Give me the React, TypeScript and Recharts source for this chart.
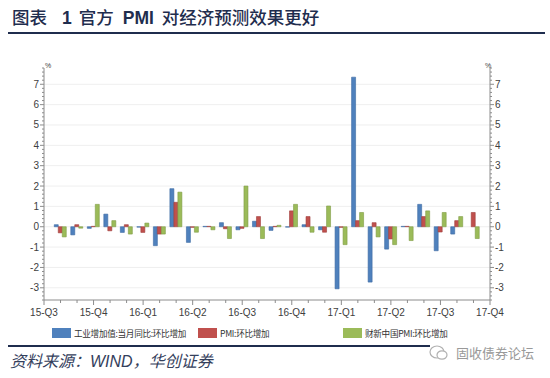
import React from "react";
import { BarChart, Bar, XAxis, YAxis, CartesianGrid } from "recharts";

// monthly data, Aug 2015 .. Sep 2017 (x position = month index from 15-Q3 start)
const months = [
  "2015-08", "2015-09", "2015-10", "2015-11", "2015-12",
  "2016-01", "2016-02", "2016-03", "2016-04", "2016-05", "2016-06",
  "2016-07", "2016-08", "2016-09", "2016-10", "2016-11", "2016-12",
  "2017-01", "2017-02", "2017-03", "2017-04", "2017-05", "2017-06",
  "2017-07", "2017-08", "2017-09",
];
const industry = [
  0.1, -0.4, -0.08, 0.62, -0.28,
  -0.02, -0.93, 1.87, -0.77, 0.02, 0.2,
  -0.15, 0.27, -0.18, -0.02, 0.1, -0.15,
  -3.05, 7.35, -2.72, -1.1, 0.02, 1.1,
  -1.18, -0.36, 0,
];
const pmi = [
  -0.3, 0.1, 0.02, -0.2, 0.1,
  -0.28, -0.36, 1.2, -0.03, 0.02, -0.1,
  -0.08, 0.5, 0.02, 0.78, 0.5, -0.27,
  -0.03, 0.3, 0.2, -0.6, 0.02, 0.5,
  -0.26, 0.3, 0.7,
];
const caixin = [
  -0.5, -0.07, 1.1, 0.3, -0.36,
  0.18, -0.36, 1.7, -0.27, -0.15, -0.58,
  2.0, -0.58, 0.07, 1.1, -0.27, 1.02,
  -0.88, 0.7, -0.5, -0.88, -0.68, 0.78,
  0.7, 0.5, -0.58,
];
const quarterLabels = ["15-Q3", "15-Q4", "16-Q1", "16-Q2", "16-Q3", "16-Q4", "17-Q1", "17-Q2", "17-Q3", "17-Q4"];
const yLabels = [-3, -2, -1, 0, 1, 2, 3, 4, 5, 6, 7];

const data = months.map((m, i) => ({ m, k: i + 1, industry: industry[i], pmi: pmi[i], caixin: caixin[i] }));
const xTicks = Array.from({ length: quarterLabels.length * 3 - 2 }, (_, i) => i);
const yTicks = Array.from({ length: 58 }, (_, i) => Math.round((-3.6 + i * 0.2) * 10) / 10);

const AXIS = "#8c8c8c";
const LABEL = "#404040";
const NAVY = "#1f2d4e";
const BLUE = "#4f81bd", RED = "#c0504d", GREEN = "#9bbb59";
const LATIN = "'Liberation Sans', 'Noto Sans CJK SC', sans-serif";
const CJK = "'Noto Sans CJK SC', sans-serif";

function LeftTick({ x, y, payload }: any) {
  const v = payload.value;
  const major = Number.isInteger(v);
  return (
    <g>
      <line x1={x - (major ? 4 : 2)} x2={x} y1={y} y2={y} stroke={AXIS} />
      {major && <text x={x - 5} y={y} dy={3.5} textAnchor="end" fontSize={10} fill={LABEL} fontFamily={LATIN}>{v}</text>}
    </g>
  );
}

function RightTick({ x, y, payload }: any) {
  const v = payload.value;
  const major = Number.isInteger(v);
  return (
    <g>
      <line x1={x} x2={x + (major ? 4 : 2)} y1={y} y2={y} stroke={AXIS} />
      {major && <text x={x + 5} y={y} dy={3.5} textAnchor="start" fontSize={10} fill={LABEL} fontFamily={LATIN}>{v}</text>}
    </g>
  );
}

function XTick({ x, y, payload }: any) {
  const v = payload.value;
  const major = v % 3 === 0;
  return (
    <g>
      <line x1={x} x2={x} y1={y} y2={y + (major ? 5 : 3)} stroke={AXIS} />
      {major && <text x={x} y={y + 16} textAnchor="middle" fontSize={10} fill={LABEL} fontFamily={LATIN}>{quarterLabels[v / 3]}</text>}
    </g>
  );
}

const legendItems = [
  { label: "工业增加值:当月同比:环比增加", color: BLUE, left: 52 },
  { label: "PMI:环比增加", color: RED, left: 198 },
  { label: "财新中国PMI:环比增加", color: GREEN, left: 343 },
];

export default function App() {
  return (
    <div style={{ position: "absolute", left: 0, top: 0, width: 550, height: 378, background: "#fff", overflow: "hidden" }}>
      <div style={{ position: "absolute", left: 0, top: 0 }}>
        <BarChart width={550} height={330} data={data} margin={{ top: 68, right: 30, left: 14, bottom: 10 }} barGap={0}>
          <CartesianGrid vertical={false} horizontalValues={yLabels} stroke="#efefef" yAxisId="left" />
          <XAxis dataKey="k" type="number" domain={[0, 27]} ticks={xTicks} interval={0} height={20}
                 stroke={AXIS} tickSize={0} tickMargin={0} tick={<XTick />} />
          <YAxis yAxisId="left" type="number" domain={[-3.6, 7.8]} ticks={yTicks} interval={0} width={30}
                 stroke={AXIS} tickSize={0} tickMargin={0} tick={<LeftTick />} allowDataOverflow />
          <YAxis yAxisId="right" orientation="right" type="number" domain={[-3.6, 7.8]} ticks={yTicks} interval={0} width={30}
                 stroke={AXIS} tickSize={0} tickMargin={0} tick={<RightTick />} allowDataOverflow />
          <Bar yAxisId="left" dataKey="industry" fill={BLUE} stroke="#3d6aa3" strokeWidth={0.6} barSize={4} isAnimationActive={false} />
          <Bar yAxisId="left" dataKey="pmi" fill={RED} stroke="#9e3c3a" strokeWidth={0.6} barSize={4} isAnimationActive={false} />
          <Bar yAxisId="left" dataKey="caixin" fill={GREEN} stroke="#7f9c45" strokeWidth={0.6} barSize={4} isAnimationActive={false} />
        </BarChart>
      </div>

      <div style={{ position: "absolute", left: 12, top: 6, fontSize: 17.5, lineHeight: "22px", color: NAVY, whiteSpace: "nowrap",
                    fontFamily: CJK, fontWeight: 500 }}>
        图表<b style={{ fontFamily: LATIN, margin: "0 7px 0 15px" }}>1</b>官方<b style={{ fontFamily: LATIN, margin: "0 8px 0 9px" }}>PMI</b>对经济预测效果更好
      </div>
      <div style={{ position: "absolute", left: 8, top: 32, width: 537, height: 2, background: NAVY }} />

      <div style={{ position: "absolute", left: 45, top: 62, fontSize: 7, color: LABEL, fontFamily: LATIN }}>%</div>
      <div style={{ position: "absolute", left: 485, top: 62, fontSize: 7, color: LABEL, fontFamily: LATIN }}>%</div>

      {legendItems.map((it) => (
        <div key={it.label} style={{ position: "absolute", left: it.left, top: 327, display: "flex", alignItems: "center", whiteSpace: "nowrap" }}>
          <span style={{ display: "inline-block", width: 19, height: 10, background: it.color, marginRight: 3 }} />
          <span style={{ fontSize: 8.6, letterSpacing: -0.3, color: "#333", fontFamily: CJK, lineHeight: "12px" }}>{it.label}</span>
        </div>
      ))}

      <div style={{ position: "absolute", left: 8, top: 345, width: 422, height: 2, background: NAVY }} />
      <div style={{ position: "absolute", left: 10, top: 350, fontSize: 16, lineHeight: "20px", fontStyle: "italic", color: "#34405c",
                    fontFamily: CJK, whiteSpace: "nowrap" }}>
        资料来源：<span style={{ fontFamily: LATIN }}>WIND</span>，华创证券
      </div>

      <svg style={{ position: "absolute", left: 428, top: 344 }} width={22} height={18}>
        <ellipse cx={9} cy={8} rx={7} ry={6} fill="none" stroke="#b0b0b0" strokeWidth={1.2} />
        <ellipse cx={14} cy={11} rx={5} ry={4.2} fill="#fff" stroke="#b0b0b0" strokeWidth={1.2} />
      </svg>
      <div style={{ position: "absolute", left: 456, top: 344, fontSize: 13, lineHeight: "17px", color: "#999",
                    fontFamily: CJK, whiteSpace: "nowrap" }}>
        固收债券论坛
      </div>
    </div>
  );
}
